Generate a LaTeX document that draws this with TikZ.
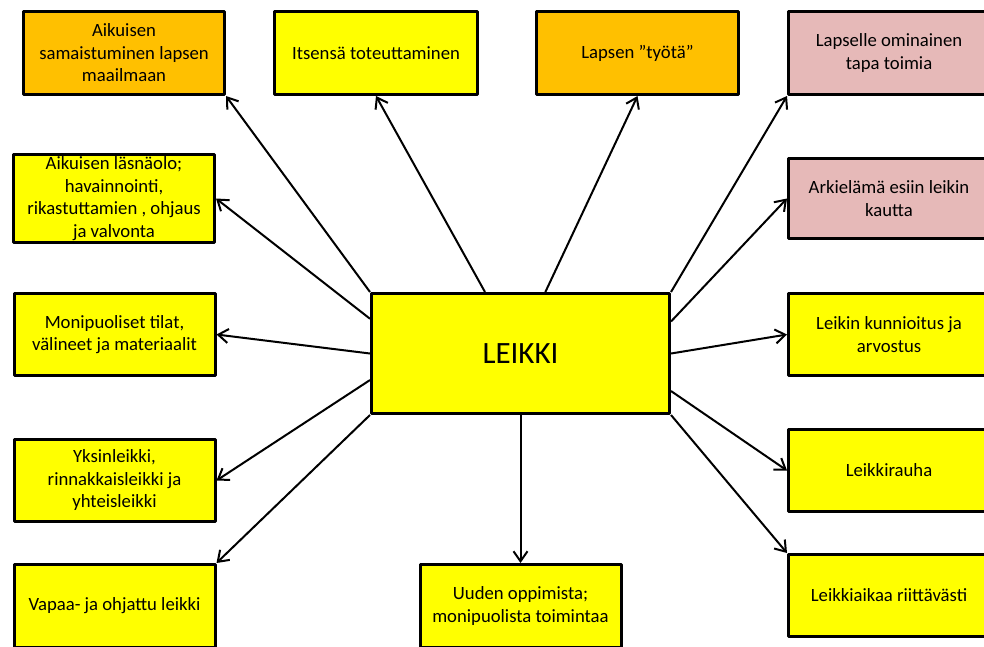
\documentclass[tikz,border=0pt]{standalone}
\usepackage{fontspec}
\setmainfont{Carlito}
\usetikzlibrary{arrows.meta}
\definecolor{boxyellow}{RGB}{255,255,0}
\definecolor{boxorange}{RGB}{255,192,0}
\definecolor{boxpink}{RGB}{230,185,184}
\begin{document}
\begin{tikzpicture}[x=1pt, y=-1pt, line join=round, >={Straight Barb[length=10pt,width=14pt]},
	box/.style={draw, line width=3pt, fill=boxyellow, minimum width=201pt, minimum height=83pt, align=center, inner sep=2pt, font=\fontsize{18.7pt}{22.5pt}\selectfont},
	conn/.style={->, line width=2pt}]
		\useasboundingbox (0,0) rectangle (984,646);
		\clip (0,0) rectangle (984,646);
		\node[box, fill=boxorange] (a1) at (124,53) {Aikuisen\\samaistuminen lapsen\\maailmaan};
		\node[box, minimum width=203pt] (itsensa) at (376,53) {Itsensä toteuttaminen};
		\node[box, fill=boxorange, minimum width=202pt] (tyota) at (637.5,53) {Lapsen ”työtä”};
		\node[box, fill=boxpink] (lapselle) at (889,53) {Lapselle ominainen\\tapa toimia};
		\node[box, minimum height=82pt] (lasnaolo) at (114,198.5) {Aikuisen läsnäolo;\\havainnointi,\\rikastuttamien , ohjaus\\ja valvonta};
		\node[box, fill=boxpink, minimum height=80pt] (arkielama) at (889,198.5) {Arkielämä esiin leikin\\kautta};
		\node[box, minimum height=82pt] (monip) at (114.5,334.5) {Monipuoliset tilat,\\välineet ja materiaalit};
		\node[box, minimum height=82pt] (kunnioitus) at (889,334.5) {Leikin kunnioitus ja\\arvostus};
		\node[box, minimum width=298pt, minimum height=120pt, font=\fontsize{31pt}{36pt}\selectfont] (leikki) at (520.5,353.5) {LEIKKI};
		\node[box, minimum height=82pt] (yksin) at (114.5,480.5) {Yksinleikki,\\rinnakkaisleikki ja\\yhteisleikki};
		\node[box, minimum height=82pt] (rauha) at (889,470.5) {Leikkirauha};
		\node[box] (vapaa) at (114.5,606) {Vapaa- ja ohjattu leikki};
		\node[box, minimum width=201pt] (uuden) at (520.5,606) {Uuden oppimista;\\monipuolista toimintaa};
		\node[box, minimum height=82pt] (aika) at (889,595.5) {Leikkiaikaa riittävästi};
		\foreach \a/\b in {north west/a1.south east, 120/itsensa.south, 68/tyota.south, north east/lapselle.south west, 12/arkielama.west, east/kunnioitus.west, -14/rauha.west, south east/aika.north west, south/uuden.north, 167/lasnaolo.east, west/monip.east, 190/yksin.east, south west/vapaa.north east}
			\draw[conn] (leikki.\a) -- (\b);
\end{tikzpicture}
\end{document}
